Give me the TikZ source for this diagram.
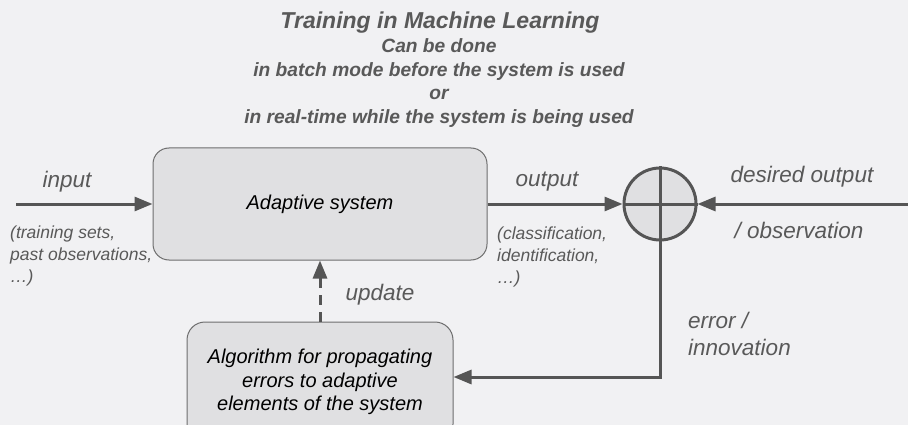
\documentclass[tikz,border=0pt]{standalone}
\usepackage{fontspec}
\setmainfont{Liberation Sans}
\usetikzlibrary{arrows.meta}
\definecolor{bg}{HTML}{F1F1F3}
\definecolor{boxfill}{HTML}{E0E0E2}
\definecolor{ln}{HTML}{555555}
\definecolor{txt}{HTML}{595959}
\begin{document}
\begin{tikzpicture}[x=1pt,y=-1pt,
  conn/.style={draw=ln, line width=3pt, -{Triangle[length=18pt,width=14pt]}},
  sysbox/.style={draw=ln!85, line width=1pt, fill=boxfill, rounded corners=16pt, align=center, text=black,
     font=\fontsize{20}{23.5}\selectfont\itshape},
  lbl/.style={text=txt, font=\fontsize{22.5}{27}\selectfont\itshape, inner sep=0pt, align=left},
  small/.style={text=txt, font=\fontsize{17.5}{22}\selectfont\itshape, align=left, inner sep=0pt},
  ttl/.style={text=txt, font=\fontsize{23}{26}\selectfont\bfseries\itshape, inner sep=0pt},
  sub/.style={text=txt, font=\fontsize{19.2}{23.5}\selectfont\bfseries\itshape, inner sep=0pt, align=center}]
\useasboundingbox (0,0) rectangle (908,425);
\clip (0,0) rectangle (908,425);
\fill[bg] (0,0) rectangle (908,425);

\node[ttl] (title) at (440,23) {Training in Machine Learning};
\node[sub] (subtitle) at (439,83) {Can be done\\in batch mode before the system is used\\or\\in real-time while the system is being used};

\node[sysbox, minimum width=334pt, minimum height=112pt] (sys) at (320,204) {Adaptive system};
\node[sysbox, minimum width=266pt, minimum height=120pt, rounded corners=18pt] (alg) at (320,382)
  {Algorithm for propagating\\errors to adaptive\\elements of the system};
\node[circle, draw=ln, line width=3pt, fill=boxfill, minimum size=72pt, inner sep=0pt] (sum) at (660,204) {};
\draw[ln, line width=3pt] (sum.north) -- (sum.south) (sum.west) -- (sum.east);

\coordinate (inS) at (16,204);
\coordinate (dS) at (910,204);
\coordinate (corner) at (661,377);

\draw[conn] (inS) -- (sys.west);
\draw[conn] (sys.east) -- (sum.west);
\draw[conn] (dS) -- (sum.east);
\draw[conn] (sum.south) -- (sum.south |- corner) -- (alg.east |- corner);
\draw[conn, dash pattern=on 10pt off 7pt] (alg.north) -- (sys.south);

\node[lbl] (inL) at (67,182) {input};
\node[small, anchor=west] (inD) at (10,256) {(training sets,\\past observations,\\…)};
\node[lbl] (outL) at (547,182) {output};
\node[small, anchor=west] (outD) at (497,257) {(classification,\\identification,\\…)};
\node[lbl] (desL) at (802,177) {desired output};
\node[lbl] (obsL) at (799,230) {/ observation};
\node[lbl] (updL) at (380,295) {update};
\node[lbl, anchor=west] (errL) at (688,334) {error /\\innovation};
\end{tikzpicture}
\end{document}
